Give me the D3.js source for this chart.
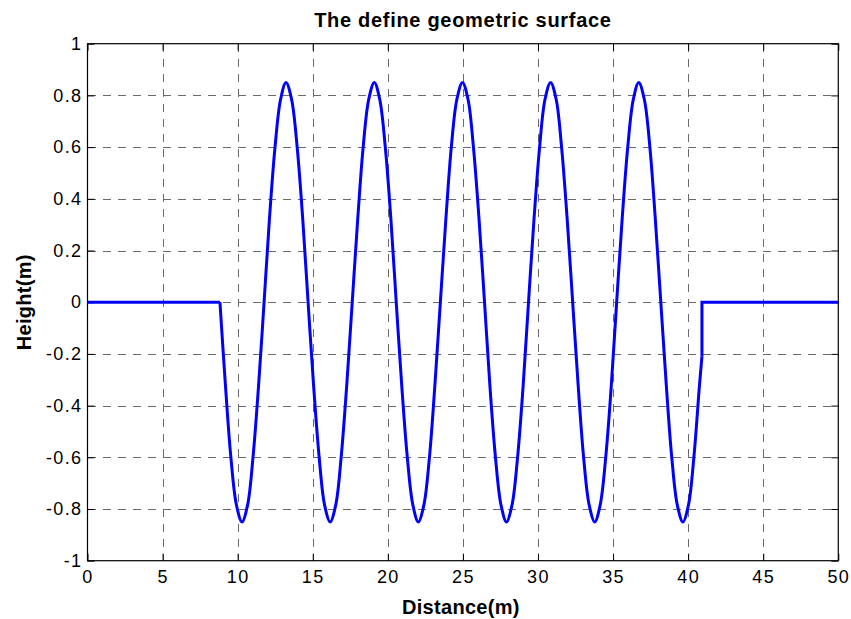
<!DOCTYPE html>
<html>
<head>
<meta charset="utf-8">
<script src="https://cdn.jsdelivr.net/npm/d3@7"></script>
<style>
  html, body { margin: 0; padding: 0; background: #fff; }
  svg { display: block; font-family: "Liberation Sans", Arial, sans-serif; }
</style>
</head>
<body>
<svg id="chart" width="851" height="619"></svg>
<script>
// ---- data ----
const xTicks = [0, 5, 10, 15, 20, 25, 30, 35, 40, 45, 50];
const yTicks = [-1, -0.8, -0.6, -0.4, -0.2, 0, 0.2, 0.4, 0.6, 0.8, 1];

// flat road before and after the wavy section
const flatBeforeX = [0, 8.82];
const flatBeforeY = [0, 0];
const flatAfterX  = [40.92, 40.92, 50];
const flatAfterY  = [-0.21, 0, 0];

// wavy section
const waveX = [
  8.82, 9.19, 9.55, 9.92, 10.29, 10.66, 11.02, 11.39,
  11.76, 12.12, 12.49, 12.86, 13.22, 13.59, 13.96, 14.33,
  14.69, 15.06, 15.43, 15.79, 16.16, 16.53, 16.89, 17.26,
  17.63, 18.00, 18.36, 18.73, 19.10, 19.46, 19.83, 20.20,
  20.56, 20.93, 21.30, 21.67, 22.03, 22.40, 22.77, 23.13,
  23.50, 23.87, 24.23, 24.60, 24.97, 25.34, 25.70, 26.07,
  26.44, 26.80, 27.17, 27.54, 27.90, 28.27, 28.64, 29.01,
  29.37, 29.74, 30.11, 30.47, 30.84, 31.21, 31.57, 31.94,
  32.31, 32.68, 33.04, 33.41, 33.78, 34.14, 34.51, 34.88,
  35.24, 35.61, 35.98, 36.35, 36.71, 37.08, 37.45, 37.81,
  38.18, 38.55, 38.91, 39.28, 39.65, 40.02, 40.38, 40.75,
  40.92
];
const waveY = [
  0, -0.325, -0.601, -0.785, -0.85, -0.785, -0.601, -0.325,
  0, 0.325, 0.601, 0.785, 0.85, 0.785, 0.601, 0.325,
  0, -0.325, -0.601, -0.785, -0.85, -0.785, -0.601, -0.325,
  0, 0.325, 0.601, 0.785, 0.85, 0.785, 0.601, 0.325,
  0, -0.325, -0.601, -0.785, -0.85, -0.785, -0.601, -0.325,
  0, 0.325, 0.601, 0.785, 0.85, 0.785, 0.601, 0.325,
  0, -0.325, -0.601, -0.785, -0.85, -0.785, -0.601, -0.325,
  0, 0.325, 0.601, 0.785, 0.85, 0.785, 0.601, 0.325,
  0, -0.325, -0.601, -0.785, -0.85, -0.785, -0.601, -0.325,
  0, 0.325, 0.601, 0.785, 0.85, 0.785, 0.601, 0.325,
  0, -0.325, -0.601, -0.785, -0.85, -0.785, -0.601, -0.325,
  -0.21
];

const titleText = "The define geometric surface";
const xLabel = "Distance(m)";
const yLabel = "Height(m)";

// ---- layout ----
const svg = d3.select("#chart");
const L = 87.5, R = 838.3, T = 43.7, B = 560.7;

const x = d3.scaleLinear().domain([0, 50]).range([L, R]);
const y = d3.scaleLinear().domain([-1, 1]).range([B, T]);

// grid
const grid = svg.append("g").attr("stroke", "#6a6a6a").attr("stroke-width", 1)
  .attr("stroke-dasharray", "8,7").attr("shape-rendering", "crispEdges");
xTicks.slice(1, -1).forEach(v => {
  grid.append("line").attr("x1", Math.round(x(v)) + 0.5).attr("x2", Math.round(x(v)) + 0.5)
    .attr("y1", T).attr("y2", B);
});
yTicks.slice(1, -1).forEach(v => {
  grid.append("line").attr("y1", Math.round(y(v)) + 0.5).attr("y2", Math.round(y(v)) + 0.5)
    .attr("x1", L).attr("x2", R);
});

// axes (MATLAB-style inward ticks on all four sides)
const tickLen = 7;
const fmt = d => String(+(+d).toFixed(1)); // plain hyphen-minus like MATLAB
const axB = d3.axisBottom(x).tickValues(xTicks).tickSize(-tickLen).tickPadding(10).tickFormat(fmt);
const axT = d3.axisTop(x).tickValues(xTicks).tickSize(-tickLen).tickFormat("");
const axLft = d3.axisLeft(y).tickValues(yTicks).tickSize(-tickLen).tickPadding(5).tickFormat(fmt);
const axRgt = d3.axisRight(y).tickValues(yTicks).tickSize(-tickLen).tickFormat("");

function styleAxis(g) {
  g.select(".domain").remove();
  g.selectAll(".tick line").attr("stroke", "#000");
  g.selectAll("text").attr("font-size", 18).attr("fill", "#000")
    .attr("letter-spacing", 1.4)
    .attr("font-family", "'Liberation Sans', Arial, sans-serif");
}
svg.append("g").attr("transform", `translate(0,${B})`).call(axB).call(styleAxis);
svg.append("g").attr("transform", `translate(0,${T})`).call(axT).call(styleAxis);
svg.append("g").attr("transform", `translate(${L},0)`).call(axLft).call(styleAxis);
svg.append("g").attr("transform", `translate(${R},0)`).call(axRgt).call(styleAxis);

// box
svg.append("rect").attr("x", L).attr("y", T).attr("width", R - L).attr("height", B - T)
  .attr("fill", "none").attr("stroke", "#000").attr("stroke-width", 1.2);

// the surface line
const lineLin = d3.line().x(d => x(d[0])).y(d => y(d[1]));
const lineSmooth = d3.line().x(d => x(d[0])).y(d => y(d[1])).curve(d3.curveCatmullRom.alpha(0.5));
const stroke = { color: "#0000ff", width: 3 };

svg.append("path").datum(flatBeforeX.map((v, i) => [v, flatBeforeY[i]]))
  .attr("d", lineLin).attr("fill", "none").attr("stroke", stroke.color)
  .attr("stroke-width", stroke.width).attr("stroke-linejoin", "round");
svg.append("path").datum(waveX.map((v, i) => [v, waveY[i]]))
  .attr("d", lineSmooth).attr("fill", "none").attr("stroke", stroke.color)
  .attr("stroke-width", stroke.width).attr("stroke-linejoin", "round");
svg.append("path").datum(flatAfterX.map((v, i) => [v, flatAfterY[i]]))
  .attr("d", lineLin).attr("fill", "none").attr("stroke", stroke.color)
  .attr("stroke-width", stroke.width).attr("stroke-linejoin", "miter");

// texts
svg.append("text").attr("x", (L + R) / 2).attr("y", 26.7).attr("text-anchor", "middle")
  .attr("font-size", 20).attr("font-weight", "bold").attr("letter-spacing", 0.7).text(titleText);
svg.append("text").attr("x", (L + R) / 2 - 2).attr("y", 614).attr("text-anchor", "middle")
  .attr("font-size", 20).attr("font-weight", "bold").attr("letter-spacing", 0.3).text(xLabel);
svg.append("text").attr("transform", `translate(31,${(T + B) / 2}) rotate(-90)`)
  .attr("text-anchor", "middle").attr("font-size", 20).attr("font-weight", "bold")
  .attr("letter-spacing", 0.3).text(yLabel);
</script>
</body>
</html>
